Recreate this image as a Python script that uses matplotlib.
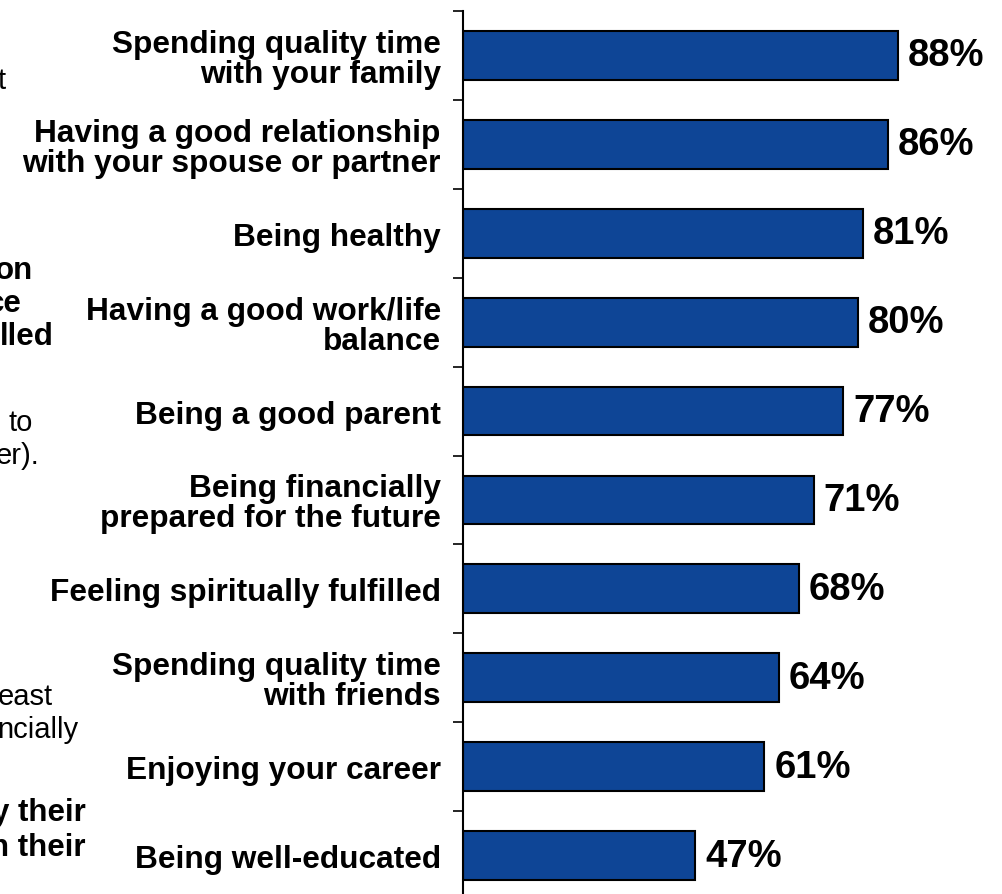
import matplotlib
matplotlib.use("Agg")
import matplotlib.pyplot as plt

categories = [
    "Spending quality time\nwith your family",
    "Having a good relationship\nwith your spouse or partner",
    "Being healthy",
    "Having a good work/life\nbalance",
    "Being a good parent",
    "Being financially\nprepared for the future",
    "Feeling spiritually fulfilled",
    "Spending quality time\nwith friends",
    "Enjoying your career",
    "Being well-educated",
]
values = [88, 86, 81, 80, 77, 71, 68, 64, 61, 47]

# cropped fragments of a text panel at the left edge: (text, bold)
fragments = [("t", False), ("on", True), ("ce", True), ("lled", True),
             ("to", False), ("er).", False), ("east", False), ("ncially", False),
             ("y their", True), ("n their", True)]
frag_pos = [(6, 81), (33, 271), (22, 304), (54, 337), (33, 423), (40, 456),
            (53, 697), (78, 730), (86, 813), (86, 848)]

plt.rcParams['font.family'] = ['Liberation Sans', 'DejaVu Sans']

W, H = 1003, 895
fig = plt.figure(figsize=(W / 100, H / 100), dpi=100)
left, top, bottom = 463, 12, 901
ax = fig.add_axes([left / W, 1 - bottom / H, (W - left) / W, (bottom - top) / H])

y = list(range(len(values)))
ax.barh(y, values, height=0.55, color='#0E4596', edgecolor='black', linewidth=1.5)
ax.set_xlim(0, (W - left) / 4.94)
ax.set_ylim(len(values) - 0.5, -0.5)

for s in ['top', 'right', 'bottom']:
    ax.spines[s].set_visible(False)
ax.spines['left'].set_linewidth(1.5)
ax.set_xticks([])
ax.set_yticks(y)
ax.set_yticklabels(categories, fontsize=22.8, fontweight='bold', linespacing=1.0)
ax.tick_params(axis='y', which='major', length=0, pad=16)
ax.set_yticks([i + 0.5 for i in range(-1, len(values))], minor=True)
ax.tick_params(axis='y', which='minor', length=7.5, width=1.2, direction='out')

for i, v in enumerate(values):
    ax.text(v + 2.0, i, f"{v}%", va='center', ha='left', fontsize=27.5, fontweight='bold')

for (t, b), (px, py) in zip(fragments, frag_pos):
    fig.text(px / W, 1 - py / H, t, ha='right', va='center',
             fontsize=22.5 if b else 21, fontweight='bold' if b else 'normal')

fig.savefig("out.png", dpi=100)
